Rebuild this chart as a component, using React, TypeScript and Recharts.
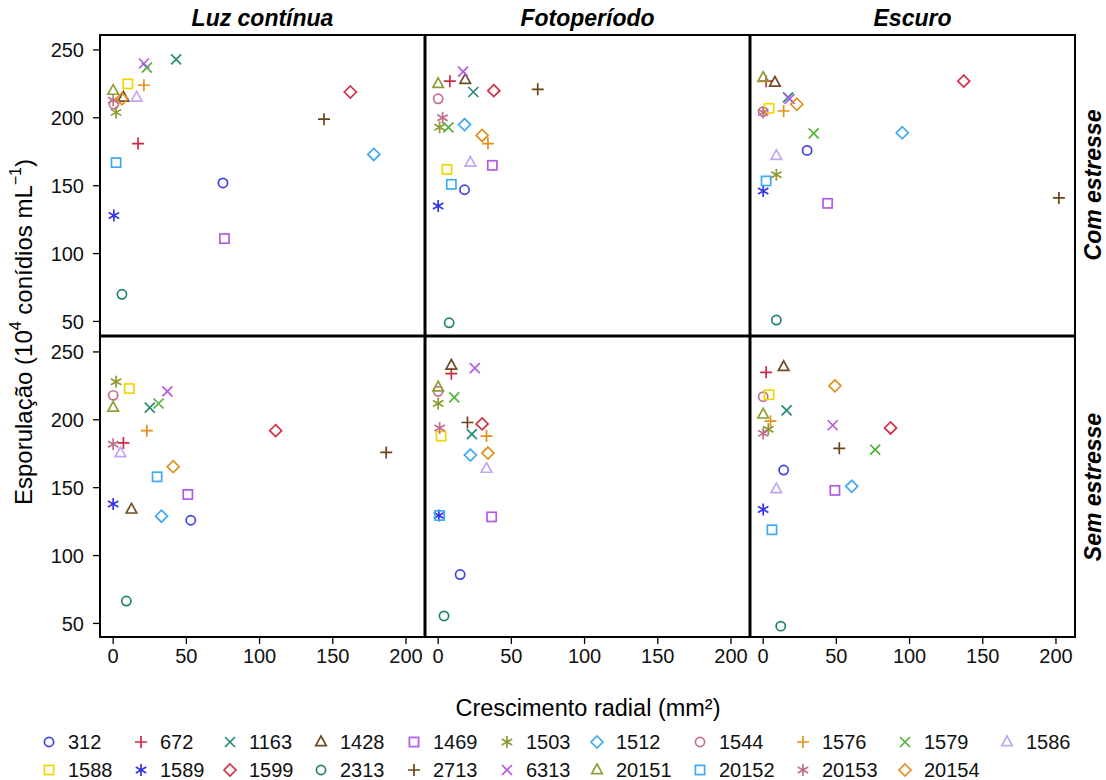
import { ScatterChart, Scatter, XAxis, YAxis } from 'recharts';

const FONT = '"Liberation Sans", Arial, sans-serif';

// isolates, in legend order
const isolates = [
  '312', '672', '1163', '1428', '1469', '1503', '1512', '1544', '1576', '1579', '1586',
  '1588', '1589', '1599', '2313', '2713', '6313', '20151', '20152', '20153', '20154',
];
const symbols = ['circle', 'plus', 'x', 'triangle', 'square', 'asterisk', 'diamond'];
const colors = [
  '#4040e6', '#d02a40', '#2a8a78', '#6e4d25', '#b45ae6', '#8c9a2e', '#3fa9f5',
  '#c0708f', '#e8901a', '#52b33c', '#c2a5f5', '#f2d600', '#3535e8', '#d03048',
  '#208270', '#6a4618', '#b45ae6', '#8f9f35', '#3fa9f5', '#c0708f', '#e0901f',
];

const columnTitles = ['Luz contínua', 'Fotoperíodo', 'Escuro'];
const rowTitles = ['Com estresse', 'Sem estresse'];
const xTicks = [0, 50, 100, 150, 200];
const yTicks = [50, 100, 150, 200, 250];

// Com estresse
const luzComX = [75, 17, 43, 7, 76, 2, 178, 0.5, 21, 23, 16, 10, 0.5, 162, 6, 144, 21, 0, 2, 0, 6];
const luzComY = [152, 181, 243, 215, 111, 204, 173, 210, 224, 237, 215, 225, 128, 219, 70, 199, 240, 220, 167, 213, 214];
const fotoComX = [18, 8, 24, 18.5, 37, 1, 18, 0, 34, 7, 22, 6, 0, 38, 7.5, 68, 17, 0, 9, 3, 30];
const fotoComY = [147, 227, 219, 228, 165, 193, 195, 214, 181, 193, 167, 162, 135, 220, 49, 221, 234, 225, 151, 200, 187];
const escComX = [30, 2, 17, 8, 44, 9, 95, 0, 14, 34.5, 9, 4, 0, 137, 9, 202, 18, 0, 2, 0, 23];
const escComY = [176, 227, 215, 226, 137, 158, 189, 204.5, 205, 188.5, 172, 207, 146, 227, 51, 141, 214, 229.5, 153.5, 204, 210];

// Sem estresse
const luzSemX = [53, 7, 25, 12.5, 51, 2, 33, 0, 23, 31, 5, 11, 0, 111, 9, 186.5, 37, 0, 30, 0, 41];
const luzSemY = [126, 183, 209, 134, 145, 228, 129, 218, 192, 212, 175.5, 223, 138, 192, 66.5, 176, 221, 209, 158, 182, 165.5];
const fotoSemX = [15, 9, 23, 9, 36.5, 0, 22, 0, 33, 11, 33, 2, 0.5, 30, 4, 20, 25, 0, 1, 1, 34];
const fotoSemY = [86, 234, 189.5, 240, 128.5, 212, 174, 221, 188, 216.5, 164, 188, 129.5, 197, 55.5, 198, 238, 224, 129.5, 194, 175.5];
const escSemX = [14, 2, 16, 14, 49, 3.5, 60.5, 0, 5, 76.5, 9, 4, 0, 87, 12, 52, 47.5, 0, 6, 0, 49];
const escSemY = [163, 235, 207, 239, 148, 193, 151, 217, 199, 178, 149, 218.5, 134, 194, 48, 179, 196, 204, 119, 190, 225];

const panels = [
  { row: 0, col: 0, xs: luzComX, ys: luzComY },
  { row: 0, col: 1, xs: fotoComX, ys: fotoComY },
  { row: 0, col: 2, xs: escComX, ys: escComY },
  { row: 1, col: 0, xs: luzSemX, ys: luzSemY },
  { row: 1, col: 1, xs: fotoSemX, ys: fotoSemY },
  { row: 1, col: 2, xs: escSemX, ys: escSemY },
];

// layout
const PANEL_LEFT = [100, 425, 750];
const PANEL_TOP = [35, 337];
const PANEL_W = 325;
const PANEL_H = 300;
const Y_AXIS_W = 60;
const X_AXIS_H = 45;
const legendCols = [49, 141, 230, 321, 414, 507, 597, 700, 803, 905, 1007];
const legendRows = [742, 770];

const Marker = ({ cx, cy, sym, color }: { cx: number; cy: number; sym: string; color: string }) => {
  const st = { fill: 'none', stroke: color, strokeWidth: 1.7 };
  switch (sym) {
    case 'circle':
      return <circle cx={cx} cy={cy} r={4.6} {...st} />;
    case 'plus':
      return <path d={`M${cx - 6},${cy}H${cx + 6}M${cx},${cy - 6}V${cy + 6}`} {...st} />;
    case 'x':
      return <path d={`M${cx - 5},${cy - 5}L${cx + 5},${cy + 5}M${cx - 5},${cy + 5}L${cx + 5},${cy - 5}`} {...st} />;
    case 'triangle':
      return <path d={`M${cx},${cy - 6}L${cx + 5.3},${cy + 3.6}L${cx - 5.3},${cy + 3.6}Z`} {...st} />;
    case 'square':
      return <rect x={cx - 4.6} y={cy - 4.6} width={9.2} height={9.2} {...st} />;
    case 'asterisk':
      return (
        <path
          d={`M${cx},${cy - 6}V${cy + 6}M${cx - 5.2},${cy - 3}L${cx + 5.2},${cy + 3}M${cx - 5.2},${cy + 3}L${cx + 5.2},${cy - 3}`}
          {...st}
        />
      );
    default:
      return <path d={`M${cx},${cy - 6}L${cx + 6},${cy}L${cx},${cy + 6}L${cx - 6},${cy}Z`} {...st} />;
  }
};

const tickStyle = { fontSize: 20, fill: '#111', fontFamily: FONT };

const Panel = ({ row, col, xs, ys }: { row: number; col: number; xs: number[]; ys: number[] }) => {
  const withY = col === 0;
  const withX = row === 1;
  const left = PANEL_LEFT[col] - (withY ? Y_AXIS_W : 0);
  const width = PANEL_W + (withY ? Y_AXIS_W : 0);
  const height = PANEL_H + (withX ? X_AXIS_H : 0);
  return (
    <div style={{ position: 'absolute', left, top: PANEL_TOP[row], width, height }}>
      <ScatterChart width={width} height={height} margin={{ top: 0, right: 0, bottom: 0, left: 0 }}>
        <XAxis
          type="number"
          dataKey="x"
          domain={[-9, 213]}
          ticks={xTicks}
          interval={0}
          hide={!withX}
          height={X_AXIS_H}
          axisLine={false}
          tickLine={{ stroke: '#000', strokeWidth: 1.3 }}
          tickSize={7}
          tickMargin={5}
          tick={tickStyle}
        />
        <YAxis
          type="number"
          dataKey="y"
          domain={[40, 261]}
          ticks={yTicks}
          interval={0}
          hide={!withY}
          width={Y_AXIS_W}
          axisLine={false}
          tickLine={{ stroke: '#000', strokeWidth: 1.3 }}
          tickSize={7}
          tickMargin={9}
          tick={tickStyle}
        />
        {isolates.map((name, i) => (
          <Scatter
            key={name}
            name={name}
            data={[{ x: xs[i], y: ys[i] }]}
            isAnimationActive={false}
            shape={(p: any) => <Marker cx={p.cx} cy={p.cy} sym={symbols[i % 7]} color={colors[i]} />}
          />
        ))}
      </ScatterChart>
    </div>
  );
};

export default function App() {
  const frameRight = PANEL_LEFT[2] + PANEL_W;
  const frameBottom = PANEL_TOP[1] + PANEL_H;
  return (
    <div style={{ position: 'absolute', left: 0, top: 0, width: 1106, height: 780, background: '#fff', fontFamily: FONT }}>
      {panels.map((p) => (
        <Panel key={`${p.row}-${p.col}`} {...p} />
      ))}
      <svg width={1106} height={780} style={{ position: 'absolute', left: 0, top: 0, pointerEvents: 'none' }}>
        {/* frame */}
        <rect
          x={PANEL_LEFT[0]}
          y={PANEL_TOP[0]}
          width={frameRight - PANEL_LEFT[0]}
          height={frameBottom - PANEL_TOP[0]}
          fill="none"
          stroke="#000"
          strokeWidth={2}
        />
        <line x1={PANEL_LEFT[1]} x2={PANEL_LEFT[1]} y1={PANEL_TOP[0]} y2={frameBottom} stroke="#000" strokeWidth={3} />
        <line x1={PANEL_LEFT[2]} x2={PANEL_LEFT[2]} y1={PANEL_TOP[0]} y2={frameBottom} stroke="#000" strokeWidth={3} />
        <line x1={PANEL_LEFT[0]} x2={frameRight} y1={336} y2={336} stroke="#000" strokeWidth={3} />

        {/* column titles */}
        {columnTitles.map((t, c) => (
          <text
            key={t}
            x={PANEL_LEFT[c] + PANEL_W / 2}
            y={26}
            textAnchor="middle"
            fontSize={23}
            fontWeight="bold"
            fontStyle="italic"
            fill="#000"
          >
            {t}
          </text>
        ))}
        {/* row titles */}
        {rowTitles.map((t, r) => {
          const cy = PANEL_TOP[r] + PANEL_H / 2;
          return (
            <text
              key={t}
              x={1093}
              y={cy}
              transform={`rotate(-90 1093 ${cy})`}
              textAnchor="middle"
              dominantBaseline="central"
              fontSize={23}
              fontWeight="bold"
              fontStyle="italic"
              fill="#000"
            >
              {t}
            </text>
          );
        })}

        {/* axis labels */}
        <text
          x={23}
          y={332}
          transform="rotate(-90 23 332)"
          textAnchor="middle"
          dominantBaseline="central"
          fontSize={24}
          fill="#000"
        >
          Esporulação (10<tspan dy={-8} fontSize={16}>4</tspan>
          <tspan dy={8}> conídios mL</tspan>
          <tspan dy={-8} fontSize={16}>−1</tspan>
          <tspan dy={8}>)</tspan>
        </text>
        <text x={588} y={716} textAnchor="middle" fontSize={23.5} fill="#000">
          Crescimento radial (mm²)
        </text>

        {/* legend */}
        {isolates.map((name, i) => {
          const r = i < 11 ? 0 : 1;
          const c = i < 11 ? i : i - 11;
          const x = legendCols[c];
          const y = legendRows[r];
          return (
            <g key={name}>
              <Marker cx={x} cy={y} sym={symbols[i % 7]} color={colors[i]} />
              <text x={x + 19} y={y} dominantBaseline="central" fontSize={20} fill="#111">
                {name}
              </text>
            </g>
          );
        })}
      </svg>
    </div>
  );
}
